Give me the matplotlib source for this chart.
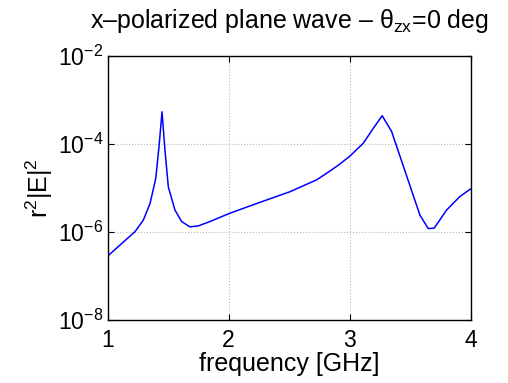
import matplotlib
matplotlib.use("Agg")
import matplotlib.pyplot as plt
import numpy as np

plt.rcParams['font.family'] = ['Liberation Sans', 'DejaVu Sans']
plt.rcParams['mathtext.fontset'] = 'custom'
plt.rcParams['mathtext.rm'] = 'Liberation Sans'
plt.rcParams['mathtext.it'] = 'Liberation Sans'
plt.rcParams['mathtext.default'] = 'regular'

freq = [1.0, 1.117, 1.227, 1.295, 1.351, 1.398, 1.425, 1.45, 1.474, 1.502,
        1.557, 1.612, 1.68, 1.749, 1.845, 2.01, 2.23, 2.506, 2.726, 2.836,
        2.918, 3.0, 3.11, 3.193, 3.267, 3.345, 3.578, 3.647, 3.696, 3.798,
        3.908, 4.0]
log_val = [-6.56, -6.27, -6.00, -5.74, -5.36, -4.79, -4.07, -3.27, -4.14, -4.98,
           -5.51, -5.77, -5.89, -5.87, -5.77, -5.58, -5.36, -5.09, -4.82, -4.62,
           -4.46, -4.28, -3.99, -3.65, -3.36, -3.72, -5.62, -5.93, -5.92, -5.51,
           -5.20, -5.02]
values = [10.0 ** v for v in log_val]

title = 'x–polarized plane wave – θ$_{zx}$=0 deg'
xlabel = 'frequency [GHz]'
ylabel = 'r$^2$|E|$^2$'
xticks = [1, 2, 3, 4]
yticks = [1e-8, 1e-6, 1e-4, 1e-2]
ytick_labels = ['10$^{-8}$', '10$^{-6}$', '10$^{-4}$', '10$^{-2}$']

fig = plt.figure(figsize=(5.08, 3.83), dpi=100)
ax = fig.add_axes([107.5/508, 1 - 319.5/383, (471-107.5)/508, (319.5-56)/383])
ax.plot(freq, values, color=(0, 0, 1), lw=1.1)
ax.set_yscale('log')
ax.set_xlim(1, 4)
ax.set_ylim(1e-8, 1e-2)
ax.set_xticks(xticks)
ax.set_xticklabels([str(t) for t in xticks])
ax.set_yticks(yticks)
ax.set_yticklabels(ytick_labels)
ax.minorticks_off()
ax.tick_params(direction='in', top=True, right=True, labelsize=16.5, length=4, width=0.8)
ax.tick_params(axis='x', pad=7)
ax.tick_params(axis='y', pad=3)
ax.grid(True, which='major', linestyle=':', color='#b8b8b8', lw=0.8)
for s in ax.spines.values():
    s.set_linewidth(1.0)
ax.set_title(title, fontsize=18, pad=20)
ax.set_xlabel(xlabel, fontsize=18, labelpad=0)
ax.set_ylabel(ylabel, fontsize=18, labelpad=2)
fig.savefig('out.png', dpi=100)
